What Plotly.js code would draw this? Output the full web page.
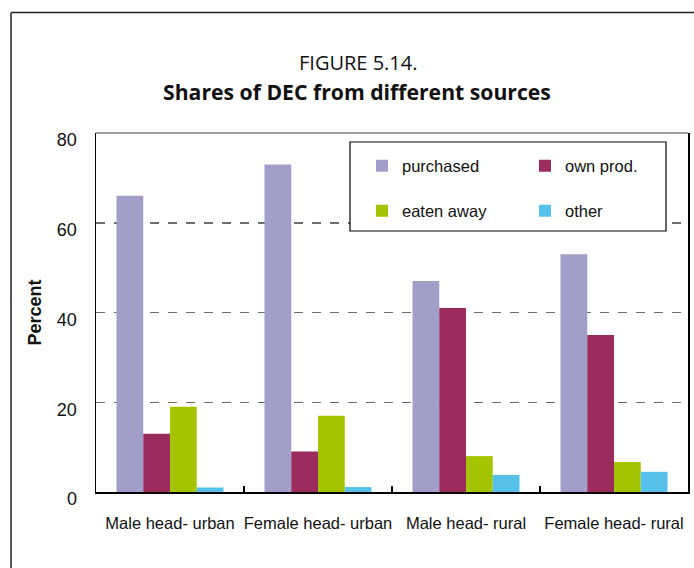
<!DOCTYPE html>
<html>
<head>
<meta charset="utf-8">
<script src="https://cdn.plot.ly/plotly-3.0.1.min.js"></script>
<style>
  html, body { margin: 0; padding: 0; background: #fff; }
  #chart { width: 694px; height: 568px; }
</style>
</head>
<body>
<div id="chart"></div>
<script>
const categories = ["Male head- urban", "Female head- urban", "Male head- rural", "Female head- rural"];
const seriesNames = ["purchased", "own prod.", "eaten away", "other"];
const purchased = [66, 73, 47, 53];
const ownProd = [13, 9, 41, 35];
const eatenAway = [19, 17, 8, 6.7];
const other = [1, 1.1, 3.8, 4.5];
const yTicks = [0, 20, 40, 60, 80];

const colors = ["#A19FC9", "#9C2B5E", "#A5C400", "#56C1EB"];
const values = [purchased, ownProd, eatenAway, other];
const legendIds = ["legend", "legend", "legend2", "legend2"];

const sans = "'Liberation Sans', Arial, sans-serif";
const titleFont = "'Open Sans', 'Noto Sans', sans-serif";

const traces = seriesNames.map((name, i) => ({
  type: "bar",
  name: name,
  x: categories,
  y: values[i],
  marker: { color: colors[i], line: { width: 0 } },
  legend: legendIds[i],
  hoverinfo: "x+y+name"
}));

// plot area in px: l=96, t=133, w=592, h=359
const L = 96, T = 133, W = 592, H = 359;
const px = v => (v - L) / W;
const py = v => (T + H - v) / H;

const legendCommon = {
  orientation: "h",
  xanchor: "left",
  yanchor: "middle",
  bgcolor: "rgba(0,0,0,0)",
  borderwidth: 0,
  entrywidth: 118,
  font: { family: sans, size: 16.5, color: "#111111" },
  traceorder: "normal"
};

const layout = {
  width: 694,
  height: 568,
  margin: { l: L, r: 694 - L - W, t: T, b: 568 - T - H, pad: 0 },
  paper_bgcolor: "#ffffff",
  plot_bgcolor: "#ffffff",
  barmode: "group",
  bargap: 0.277,
  bargroupgap: 0,
  font: { family: sans, size: 16.5, color: "#111111" },
  showlegend: true,
  legend: Object.assign({}, legendCommon, { x: px(362), y: py(166) }),
  legend2: Object.assign({}, legendCommon, { x: px(362), y: py(211) }),
  xaxis: {
    type: "category",
    showline: true,
    linecolor: "#000000",
    linewidth: 1.5,
    ticks: "inside",
    tickson: "boundaries",
    ticklen: 6,
    tickcolor: "#000000",
    tickwidth: 1.5,
    showgrid: false,
    tickangle: 0,
    tickfont: { family: sans, size: 16.5, color: "#111111" },
    ticklabelstandoff: 16,
    fixedrange: true
  },
  yaxis: {
    range: [0, 80],
    tickvals: yTicks,
    ticktext: yTicks.map(String),
    showline: true,
    mirror: true,
    linecolor: "#000000",
    linewidth: 1.5,
    ticks: "",
    showgrid: true,
    gridcolor: "#6e6e6e",
    gridwidth: 1.5,
    griddash: "dash",
    zeroline: false,
    tickfont: { family: sans, size: 18, color: "#111111" },
    ticklabelstandoff: 14,
    ticklabelshift: 7,
    title: {
      text: "<b>Percent</b>",
      font: { family: sans, size: 18, color: "#111111" },
      standoff: 10
    },
    fixedrange: true
  },
  shapes: [
    // outer figure frame (left and top edges)
    { type: "line", xref: "paper", yref: "paper", x0: px(11), x1: px(11), y0: py(12.5), y1: py(590), line: { color: "#222222", width: 1.5 } },
    { type: "line", xref: "paper", yref: "paper", x0: px(11), x1: px(720), y0: py(12.5), y1: py(12.5), line: { color: "#222222", width: 1.5 } },
    // top edge of plot area (grey)
    { type: "line", xref: "paper", yref: "paper", x0: 0, x1: 1, y0: 1, y1: 1, line: { color: "#7a7a7a", width: 1.5 }, layer: "above" },
    // legend box
    { type: "rect", xref: "paper", yref: "paper", x0: px(350), x1: px(666), y0: py(231), y1: py(142), line: { color: "#000000", width: 1.2 }, fillcolor: "#ffffff", layer: "above" }
  ],
  annotations: [
    { xref: "paper", yref: "paper", x: px(358), y: py(62), xanchor: "center", yanchor: "middle", showarrow: false,
      text: "FIGURE 5.14.", font: { family: titleFont, size: 20, color: "#111111" } },
    { xref: "paper", yref: "paper", x: px(357), y: py(92), xanchor: "center", yanchor: "middle", showarrow: false,
      text: "<b>Shares of DEC from different sources</b>", font: { family: titleFont, size: 21.2, color: "#111111" } }
  ]
};

Plotly.newPlot("chart", traces, layout, { displayModeBar: false, staticPlot: true });
</script>
</body>
</html>
